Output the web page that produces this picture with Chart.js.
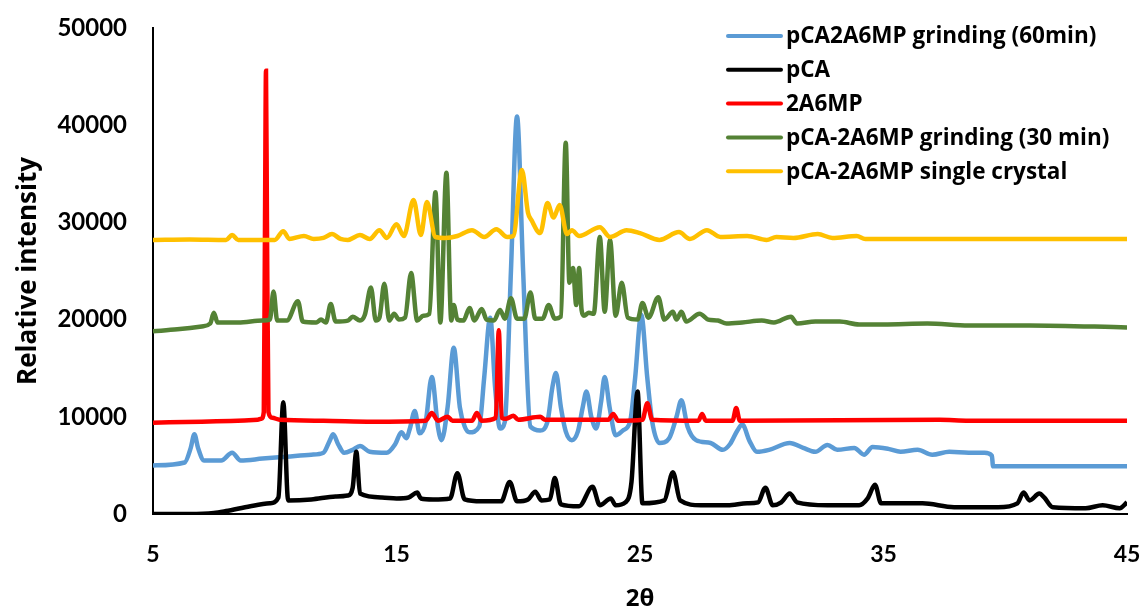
<!DOCTYPE html>
<html lang="en">
<head>
<meta charset="UTF-8">
<title>PXRD</title>
<script src="https://cdn.jsdelivr.net/npm/chart.js"></script>
<style>
  html, body { margin: 0; padding: 0; background: #fff; overflow: hidden; }
  #wrap { width: 1143px; height: 614px; }
</style>
</head>
<body>
<div id="wrap"><canvas id="chart"></canvas></div>
<script>
// 2θ / intensity pairs
const grind60 = [[5,5000],[6.3,5300],[6.55,6800],[6.7,8200],[6.85,6800],[7.1,5500],[7.8,5500],[8.25,6300],[8.6,5500],[9.5,5700],[10.5,5900],[11.5,6100],[12.0,6300],[12.25,7500],[12.4,8200],[12.6,7200],[12.85,6300],[13.2,6600],[13.5,7000],[13.9,6400],[14.6,6300],[14.95,7200],[15.2,8400],[15.4,7800],[15.55,8800],[15.75,10600],[15.95,8300],[16.2,9500],[16.45,14100],[16.7,9000],[16.85,7600],[17.1,11000],[17.35,17100],[17.6,11000],[17.8,9000],[18.0,8400],[18.4,9000],[18.6,14000],[18.85,20200],[19.05,13000],[19.25,8800],[19.45,9500],[19.7,25000],[19.95,40900],[20.2,25000],[20.5,9000],[20.9,8600],[21.2,9500],[21.4,13000],[21.55,14500],[21.75,11000],[21.95,8500],[22.2,7600],[22.45,8500],[22.65,11000],[22.8,12600],[23.0,10000],[23.2,8800],[23.4,11500],[23.55,14100],[23.75,11000],[24.0,8100],[24.3,8600],[24.6,9600],[24.8,14000],[25.05,20500],[25.3,14000],[25.5,9500],[25.8,7300],[26.2,7800],[26.5,10000],[26.7,11700],[26.95,9000],[27.3,7600],[27.9,7300],[28.4,6600],[28.7,7200],[29.0,8600],[29.2,9200],[29.5,7500],[29.8,6400],[30.3,6600],[31.15,7300],[31.7,6800],[32.2,6400],[32.7,7100],[33.1,6600],[33.8,6800],[34.2,6100],[34.55,6900],[35.2,6700],[35.7,6400],[36.4,6600],[37.0,6100],[37.7,6400],[38.5,6300],[39.15,6300],[39.45,6000],[39.5,4900],[45,4900]];

const pCA = [[5,0],[6.5,0],[7.5,100],[8.0,300],[9.0,800],[9.8,1100],[10.15,1700],[10.35,11500],[10.55,1400],[11.5,1500],[12.5,1800],[13.0,1900],[13.2,2700],[13.35,6400],[13.5,2100],[14.4,1700],[15.0,1600],[15.5,1700],[15.85,2200],[16.0,1600],[16.5,1500],[17.2,1600],[17.5,4200],[17.8,1500],[18.5,1300],[19.3,1300],[19.65,3300],[19.95,1300],[20.4,1500],[20.7,2300],[20.95,1400],[21.3,1500],[21.5,3700],[21.75,1000],[22.5,800],[23.05,2800],[23.35,900],[23.8,1600],[24.0,900],[24.4,1200],[24.65,3300],[24.9,12600],[25.1,1100],[26.0,1400],[26.35,4300],[26.65,1400],[27.5,900],[28.6,900],[29.4,1100],[29.85,1200],[30.15,2700],[30.45,900],[30.8,1200],[31.15,2100],[31.45,1200],[32.7,900],[34.0,900],[34.35,1600],[34.65,3000],[34.9,1100],[35.8,1100],[36.6,1100],[37.9,700],[39.7,700],[40.5,1100],[40.75,2200],[41.0,1400],[41.4,2100],[41.6,1700],[41.95,700],[43.3,600],[44.0,900],[44.7,600],[45,1200]];

const a6mp = [[5,9400],[7,9500],[9.3,9700],[9.45,9800],[9.55,10500],[9.6,30000],[9.64,45600],[9.68,30000],[9.74,10500],[9.9,9900],[10.2,9700],[12,9600],[14,9500],[16.2,9600],[16.45,10400],[16.7,9600],[17.1,10000],[17.3,9600],[18.1,9600],[18.3,10400],[18.5,9600],[19.08,9900],[19.2,18900],[19.32,9900],[19.5,9800],[19.8,10100],[20.0,9700],[20.9,10000],[21.1,9700],[23.7,9700],[23.9,10300],[24.1,9600],[25.1,9700],[25.3,11400],[25.5,9700],[27.4,9600],[27.55,10300],[27.7,9600],[28.8,9600],[28.95,10900],[29.1,9600],[37.3,9700],[38.5,9600],[45,9600]];

const grind30 = [[5,18800],[6,19000],[7,19300],[7.35,19600],[7.5,20700],[7.65,19700],[8.5,19700],[9.5,19900],[9.8,20000],[9.95,22900],[10.1,19900],[10.5,19900],[10.95,21900],[11.15,19800],[11.7,19700],[11.9,20000],[12.1,19700],[12.3,21600],[12.5,19800],[13.0,19900],[13.2,20300],[13.5,19900],[13.7,20500],[13.95,23300],[14.15,19900],[14.3,20200],[14.5,23700],[14.7,19900],[14.9,20600],[15.1,20000],[15.35,20200],[15.6,24800],[15.85,19900],[16.1,20400],[16.35,20600],[16.6,33100],[16.8,19700],[17.05,35100],[17.25,19900],[17.35,21500],[17.5,20000],[17.75,19900],[18.0,21200],[18.2,19900],[18.5,21100],[18.7,20000],[19.0,19900],[19.25,21000],[19.45,20100],[19.7,22200],[19.95,20100],[20.25,20100],[20.5,22800],[20.7,20100],[21.0,20100],[21.25,21500],[21.5,20100],[21.75,20300],[21.95,38200],[22.1,23800],[22.25,25300],[22.38,21500],[22.5,25300],[22.6,21000],[22.7,20400],[22.9,20700],[23.1,20600],[23.35,28500],[23.55,20800],[23.77,28200],[24.0,20400],[24.25,23800],[24.5,20200],[24.9,20000],[25.1,21700],[25.35,20200],[25.75,22300],[26.0,20000],[26.35,20800],[26.5,20000],[26.7,20800],[26.9,19800],[27.45,20600],[27.8,20000],[28.2,19900],[28.55,19600],[29.2,19700],[30.0,19900],[30.5,19700],[31.2,20300],[31.45,19600],[32.2,19800],[33.2,19800],[34.0,19500],[35.0,19500],[36.8,19600],[38.5,19400],[41.0,19400],[45,19200]];

const crystal = [[5,28200],[6.5,28250],[8.0,28200],[8.25,28700],[8.5,28200],[10.0,28200],[10.35,29100],[10.6,28300],[11.2,28600],[11.6,28300],[12.0,28400],[12.35,28800],[12.7,28300],[13.0,28200],[13.5,28700],[13.9,28300],[14.3,29200],[14.6,28400],[15.0,29800],[15.3,28600],[15.7,32300],[16.0,28700],[16.25,32100],[16.6,28500],[17.0,28400],[17.5,28600],[18.1,29200],[18.6,28500],[19.1,29300],[19.55,28500],[19.8,28600],[20.15,35400],[20.4,31000],[20.55,30200],[20.9,28900],[21.2,32000],[21.45,30500],[21.7,31800],[22.0,28800],[22.2,29200],[22.5,28600],[23.35,29500],[23.77,28500],[24.45,29200],[25.0,28900],[25.8,28200],[26.6,29000],[27.05,28300],[27.75,29200],[28.3,28500],[29.4,28600],[30.2,28200],[30.6,28500],[31.3,28400],[32.3,28800],[32.9,28400],[33.9,28600],[34.25,28300],[45,28300]];

const seriesNames = ['pCA2A6MP grinding (60min)', 'pCA', '2A6MP', 'pCA-2A6MP grinding (30 min)', 'pCA-2A6MP single crystal'];
const seriesColors = ['#5B9BD5', '#000000', '#FF0000', '#548235', '#FFC000'];
const seriesData = [grind60, pCA, a6mp, grind30, crystal];

const xTicks = [5, 15, 25, 35, 45];
const yTicks = [0, 10000, 20000, 30000, 40000, 50000];

// legend drawn inside the plot, one entry per row
const boxLegend = {
  id: 'boxLegend',
  afterDraw(chart) {
    const ctx = chart.ctx;
    const x0 = chart.chartArea.right - 399;
    ctx.save();
    ctx.font = 'bold 22.5px "Open Sans"';
    ctx.textBaseline = 'middle';
    chart.data.datasets.forEach((ds, i) => {
      const y = 36 + i * 33.8;
      ctx.strokeStyle = ds.borderColor;
      ctx.lineWidth = 4;
      ctx.lineCap = 'round';
      ctx.beginPath();
      ctx.moveTo(x0, y);
      ctx.lineTo(x0 + 53, y);
      ctx.stroke();
      ctx.fillStyle = '#000';
      ctx.fillText(ds.label, x0 + 58, y + 1);
    });
    ctx.restore();
  }
};

const datasets = seriesData.map((pts, i) => ({
  label: seriesNames[i],
  data: pts.map(p => ({ x: p[0], y: p[1] })),
  borderColor: seriesColors[i],
  backgroundColor: seriesColors[i],
  borderWidth: 4.5,
  pointRadius: 0,
  cubicInterpolationMode: 'monotone',
  order: 5 - i,
}));

new Chart(document.getElementById('chart'), {
  type: 'line',
  data: { datasets },
  plugins: [boxLegend],
  options: {
    responsive: true,
    maintainAspectRatio: false,
    animation: false,
    layout: { padding: { top: 28, right: 16, left: 0, bottom: 0 } },
    plugins: { legend: { display: false }, tooltip: { enabled: false } },
    scales: {
      x: {
        type: 'linear',
        min: xTicks[0],
        max: xTicks[xTicks.length - 1],
        afterBuildTicks: s => { s.ticks = xTicks.map(v => ({ value: v })); },
        afterFit: s => { s.height = 100; s.paddingLeft = 0; s.paddingRight = 0; },
        grid: { display: false, drawTicks: false },
        border: { display: true, color: '#000', width: 2 },
        ticks: { color: '#000', padding: 27, maxRotation: 0, font: { family: 'Lato', weight: 'bold', size: 23 } },
        title: { display: true, text: '2θ', color: '#000', padding: { bottom: 0 }, font: { family: 'Open Sans', weight: 'bold', size: 24 } }
      },
      y: {
        min: yTicks[0],
        max: yTicks[yTicks.length - 1],
        afterBuildTicks: s => { s.ticks = yTicks.map(v => ({ value: v })); },
        afterFit: s => { s.width = 153; s.paddingTop = 0; s.paddingBottom = 0; },
        grid: { display: false, drawTicks: false },
        border: { display: true, color: '#000', width: 2 },
        ticks: { color: '#000', padding: 26, callback: v => String(v), font: { family: 'Lato', weight: 'bold', size: 24 } },
        title: { display: true, text: 'Relative intensity', color: '#000', padding: { top: 13 }, font: { family: 'Open Sans', weight: 'bold', size: 26 } }
      }
    }
  }
});
</script>
</body>
</html>
